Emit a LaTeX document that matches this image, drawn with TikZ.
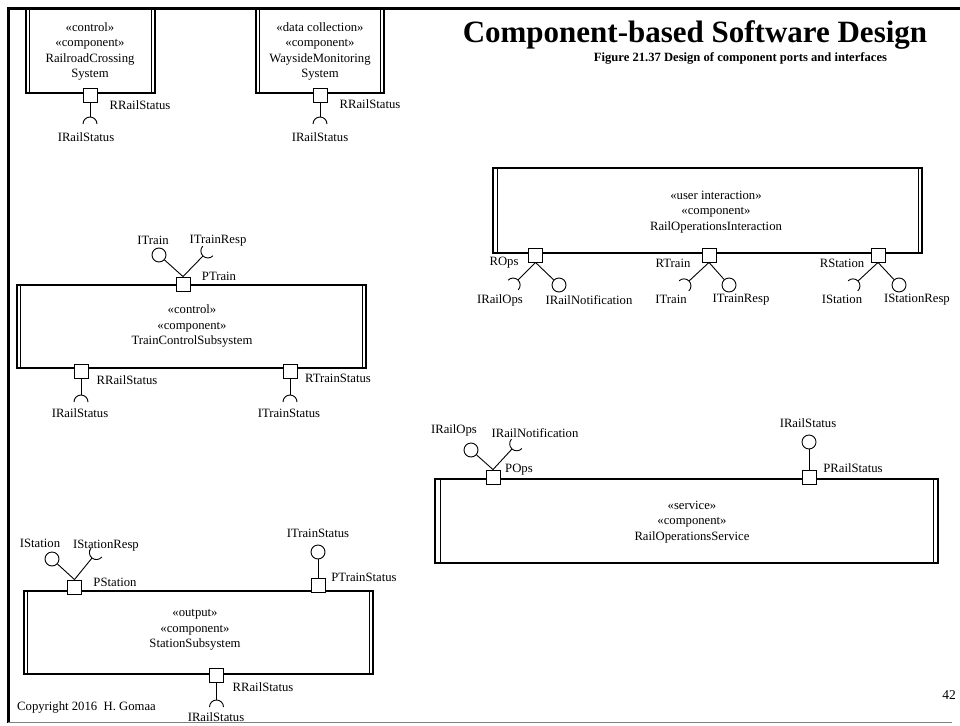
\documentclass[tikz,border=0pt]{standalone}
\usepackage{fontspec}
\setmainfont{Liberation Serif}
\newcommand\sock[2]{\draw[wire] (#1) arc[start angle={#2+180}, delta angle=90, radius=7] (#1) arc[start angle={#2+180}, delta angle=-90, radius=7];}
\newcommand\compsides[2]{%
  \draw[thin] ([xshift=#2]#1.north west) -- ([xshift=#2]#1.south west);
  \draw[thin] ([xshift=-#2]#1.north east) -- ([xshift=-#2]#1.south east);}
\begin{document}
\begin{tikzpicture}[x=1pt,y=1pt,
  comp/.style={draw, line width=1.1pt, rectangle, inner sep=0pt},
  ctext/.style={align=center, inner sep=0pt, font=\fontsize{12.7}{15.5}\selectfont},
  port/.style={draw, line width=0.9pt, fill=white, minimum size=14pt, inner sep=0pt},
  lolli/.style={draw, circle, line width=0.9pt, minimum size=14pt, inner sep=0pt},
  lbl/.style={font=\fontsize{12.7}{15}\selectfont, inner sep=0pt},
  wire/.style={line width=0.9pt},
]
\useasboundingbox (0,0) rectangle (960,-725);

% ---------- RailroadCrossingSystem ----------
\node[comp, minimum width=129, minimum height=85] (rc) at (90.5,-50.5) {};
\compsides{rc}{4pt}
\node[ctext] (rc-t) at (90,-51.5) {«control»\\«component»\\RailroadCrossing\\System};
\node[port] (rc-p) at (90,-95) {};
\coordinate (rc-s) at (90,-117);
\draw[wire] (rc-p.south) -- (rc-s); \sock{rc-s}{-90}
\node[lbl] (rc-l1) at (140,-105) {RRailStatus};
\node[lbl] (rc-l2) at (86,-137) {IRailStatus};

% ---------- WaysideMonitoringSystem ----------
\node[comp, minimum width=128, minimum height=85] (wm) at (320,-50.5) {};
\compsides{wm}{4pt}
\node[ctext] (wm-t) at (320,-51.5) {«data collection»\\«component»\\WaysideMonitoring\\System};
\node[port] (wm-p) at (320,-95) {};
\coordinate (wm-s) at (320,-117);
\draw[wire] (wm-p.south) -- (wm-s); \sock{wm-s}{-90}
\node[lbl] (wm-l1) at (370,-104) {RRailStatus};
\node[lbl] (wm-l2) at (320,-137) {IRailStatus};

% ---------- TrainControlSubsystem ----------
\node[comp, minimum width=349, minimum height=83] (tc) at (191.5,-326.5) {};
\compsides{tc}{4pt}
\node[ctext] (tc-t) at (192,-326) {«control»\\«component»\\TrainControlSubsystem};
\node[port] (tc-pt) at (183,-284) {};
\node[lolli] (tc-it) at (159,-255) {};
\coordinate (tc-itr) at (203,-256);
\draw[wire] (tc-pt.north) -- (tc-it);
\draw[wire] (tc-pt.north) -- (tc-itr); \sock{tc-itr}{46}
\node[port] (tc-rr) at (81,-371) {};
\coordinate (tc-rrs) at (81,-395);
\draw[wire] (tc-rr.south) -- (tc-rrs); \sock{tc-rrs}{-90}
\node[port] (tc-rt) at (290,-371) {};
\coordinate (tc-rts) at (290,-395);
\draw[wire] (tc-rt.south) -- (tc-rts); \sock{tc-rts}{-90}
\node[lbl] (tc-l1) at (153,-240) {ITrain};
\node[lbl] (tc-l2) at (218,-241) {ITrainResp};
\node[lbl] (tc-l3) at (219,-276) {PTrain};
\node[lbl] (tc-l4) at (127,-380) {RRailStatus};
\node[lbl] (tc-l5) at (80,-413) {IRailStatus};
\node[lbl] (tc-l6) at (338,-378) {RTrainStatus};
\node[lbl] (tc-l7) at (289,-413) {ITrainStatus};

% ---------- StationSubsystem ----------
\node[comp, minimum width=349, minimum height=83] (ss) at (198.5,-632.5) {};
\compsides{ss}{4pt}
\node[ctext] (ss-t) at (195,-630) {«output»\\«component»\\StationSubsystem};
\node[port] (ss-ps) at (74.5,-587) {};
\node[lolli] (ss-is) at (52,-559) {};
\coordinate (ss-isr) at (92,-558);
\draw[wire] (ss-ps.north) -- (ss-is);
\draw[wire] (ss-ps.north) -- (ss-isr); \sock{ss-isr}{51}
\node[port] (ss-pt) at (318,-585.5) {};
\node[lolli] (ss-its) at (318,-552) {};
\draw[wire] (ss-pt.north) -- (ss-its);
\node[port] (ss-rr) at (216.5,-675) {};
\coordinate (ss-rrs) at (216.5,-700);
\draw[wire] (ss-rr.south) -- (ss-rrs); \sock{ss-rrs}{-90}
\node[lbl] (ss-l1) at (40,-543) {IStation};
\node[lbl] (ss-l2) at (106,-546) {IStationResp};
\node[lbl] (ss-l3) at (115,-582) {PStation};
\node[lbl] (ss-l4) at (318,-533) {ITrainStatus};
\node[lbl] (ss-l5) at (364,-577) {PTrainStatus};
\node[lbl] (ss-l6) at (263,-687) {RRailStatus};
\node[lbl] (ss-l7) at (216,-717) {IRailStatus};

% ---------- RailOperationsInteraction ----------
\node[comp, minimum width=429, minimum height=85] (ri) at (707.5,-210.5) {};
\compsides{ri}{4.5pt}
\node[ctext] (ri-t) at (716,-212) {«user interaction»\\«component»\\RailOperationsInteraction};
\node[port] (ri-ro) at (535.5,-255) {};
\coordinate (ri-ros) at (518,-280);
\node[lolli] (ri-roc) at (559,-285) {};
\draw[wire] (ri-ro.south) -- (ri-ros); \sock{ri-ros}{226}
\draw[wire] (ri-ro.south) -- (ri-roc);
\node[port] (ri-rt) at (709,-255) {};
\coordinate (ri-rts) at (689,-281);
\node[lolli] (ri-rtc) at (729,-285) {};
\draw[wire] (ri-rt.south) -- (ri-rts); \sock{ri-rts}{224}
\draw[wire] (ri-rt.south) -- (ri-rtc);
\node[port] (ri-rs) at (878,-255) {};
\coordinate (ri-rss) at (858,-281);
\node[lolli] (ri-rsc) at (899,-285) {};
\draw[wire] (ri-rs.south) -- (ri-rss); \sock{ri-rss}{224}
\draw[wire] (ri-rs.south) -- (ri-rsc);
\node[lbl] (ri-l1) at (504,-263) {ROps};
\node[lbl] (ri-l2) at (500,-300) {IRailOps};
\node[lbl] (ri-l3) at (589,-300) {IRailNotification};
\node[lbl] (ri-l4) at (673,-263) {RTrain};
\node[lbl] (ri-l5) at (671,-299) {ITrain};
\node[lbl] (ri-l6) at (741,-300) {ITrainResp};
\node[lbl] (ri-l7) at (842,-263) {RStation};
\node[lbl] (ri-l8) at (842,-299) {IStation};
\node[lbl] (ri-l9) at (917,-300) {IStationResp};

% ---------- RailOperationsService ----------
\node[comp, minimum width=503, minimum height=84] (rs) at (686.5,-521) {};
\compsides{rs}{5.5pt}
\node[ctext] (rs-t) at (692,-522) {«service»\\«component»\\RailOperationsService};
\node[port] (rs-po) at (493,-477) {};
\node[lolli] (rs-poc) at (471,-450) {};
\coordinate (rs-pos) at (512,-449);
\draw[wire] (rs-po.north) -- (rs-poc);
\draw[wire] (rs-po.north) -- (rs-pos); \sock{rs-pos}{48}
\node[port] (rs-pr) at (809,-477) {};
\node[lolli] (rs-prc) at (809,-442) {};
\draw[wire] (rs-pr.north) -- (rs-prc);
\node[lbl] (rs-l1) at (454,-430) {IRailOps};
\node[lbl] (rs-l2) at (535,-433) {IRailNotification};
\node[lbl] (rs-l3) at (519,-470) {POps};
\node[lbl] (rs-l4) at (808,-423) {IRailStatus};
\node[lbl] (rs-l5) at (853,-468) {PRailStatus};

% ---------- titles and slide frame ----------
\node[anchor=base, inner sep=0pt, font=\fontsize{31}{34}\selectfont\bfseries] (title) at (695,-42) {Component-based Software Design};
\node[anchor=base, inner sep=0pt, font=\fontsize{12.6}{14}\selectfont\bfseries] (sub) at (740.5,-61) {Figure 21.37 Design of component ports and interfaces};
\node[anchor=west, inner sep=0pt, font=\fontsize{12.7}{15}\selectfont] (copy) at (17,-707) {Copyright 2016\ \ H. Gomaa};
\node[inner sep=0pt, font=\fontsize{13.5}{15}\selectfont] (page) at (949,-695) {42};
\draw[line width=2.5pt] (7,-8.5) -- (960,-8.5);
\draw[line width=2.5pt] (8.5,-8.5) -- (8.5,-723);
\draw[line width=1.5pt, gray] (8,-722.5) -- (952,-722.5);
\end{tikzpicture}
\end{document}
